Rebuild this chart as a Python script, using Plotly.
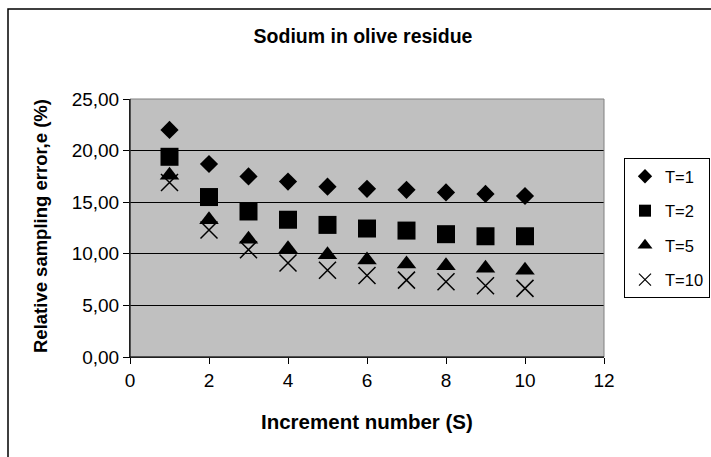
import plotly.graph_objects as go

increments = [1, 2, 3, 4, 5, 6, 7, 8, 9, 10]
t1 = [22.0, 18.7, 17.5, 17.0, 16.5, 16.3, 16.2, 15.95, 15.8, 15.6]
t2 = [19.4, 15.5, 14.1, 13.3, 12.8, 12.45, 12.25, 11.9, 11.7, 11.7]
t5 = [17.6, 13.3, 11.4, 10.5, 9.9, 9.4, 9.0, 8.85, 8.6, 8.4]
t10 = [16.9, 12.3, 10.4, 9.1, 8.4, 7.9, 7.45, 7.3, 6.9, 6.65]
series_names = ["T=1", "T=2", "T=5", "T=10"]

W, H = 711, 457
L, R, T, B = 130, 604, 99, 357  # plot area pixel edges

def px_x(p):
    return (p - L) / (R - L)

def px_y(p):
    return (B - p) / (B - T)

FONT = "Liberation Sans, Arial, sans-serif"

fig = go.Figure()
specs = [
    (t1, "diamond", 14, 11, None),
    (t2, "square", 18, 12, None),
    (t5, "triangle-up", 17, 13, None),
    (t10, "x-thin", 17, 12, 1.5),
]
for name, (vals, sym, size, lsize, lw) in zip(series_names, specs):
    marker = dict(symbol=sym, size=size, color="black")
    lmarker = dict(symbol=sym, size=lsize, color="black")
    if lw:
        marker["line"] = dict(color="black", width=lw)
        lmarker["line"] = dict(color="black", width=1.2)
    fig.add_trace(go.Scatter(
        x=increments, y=vals, mode="markers", name=name, marker=marker,
        showlegend=False,
    ))
    # legend entry with smaller symbol, like the reference legend
    fig.add_trace(go.Scatter(
        x=[None], y=[None], mode="markers", name=name, marker=lmarker,
        legendgroup=name, showlegend=True,
    ))

fig.update_layout(
    width=W, height=H,
    margin=dict(l=L, r=W - R, t=T, b=H - B, pad=0, autoexpand=False),
    paper_bgcolor="white",
    plot_bgcolor="#C0C0C0",
    separators=",.",
    font=dict(family=FONT, color="black", size=17),
    title=dict(
        text="<b>Sodium in olive residue</b>",
        x=363 / W, xref="container", xanchor="center",
        y=1 - 36 / H, yref="container", yanchor="middle",
        font=dict(size=19.5, family=FONT, color="black"),
    ),
    xaxis=dict(
        range=[0, 12], dtick=2, tick0=0,
        showgrid=False, zeroline=False,
        showline=True, linecolor="black", linewidth=1,
        ticks="outside", ticklen=6, tickcolor="black",
        tickfont=dict(size=19, family=FONT, color="black"),
    ),
    yaxis=dict(
        range=[0, 25], dtick=5, tick0=0, tickformat=".2f",
        showgrid=True, gridcolor="black", gridwidth=1, zeroline=False,
        showline=True, linecolor="black", linewidth=1,
        ticks="outside", ticklen=6, tickcolor="black",
        tickfont=dict(size=19, family=FONT, color="black"),
    ),
    showlegend=True,
    legend=dict(
        x=px_x(624), y=px_y(158), xanchor="left", yanchor="top",
        bordercolor="black", borderwidth=1, bgcolor="white",
        font=dict(size=16.5, family=FONT, color="black"),
        traceorder="grouped", tracegroupgap=10,
        itemwidth=30,
    ),
    annotations=[
        dict(text="<b>Relative sampling error,e (%)</b>", textangle=-90,
             xref="paper", yref="paper", x=px_x(40), y=px_y(226),
             xanchor="center", yanchor="middle", showarrow=False,
             font=dict(size=18.5, family=FONT, color="black")),
        dict(text="<b>Increment number (S)</b>",
             xref="paper", yref="paper", x=px_x(366.5), y=px_y(421.5),
             xanchor="center", yanchor="middle", showarrow=False,
             font=dict(size=20.5, family=FONT, color="black")),
    ],
    shapes=[
        dict(type="rect", xref="paper", yref="paper", x0=0, x1=1, y0=0, y1=1,
             line=dict(color="#808080", width=1), layer="above"),
        dict(type="line", xref="paper", yref="paper", x0=0, x1=0, y0=0, y1=1,
             line=dict(color="black", width=1), layer="above"),
        dict(type="line", xref="paper", yref="paper", x0=0, x1=1, y0=0, y1=0,
             line=dict(color="black", width=1), layer="above"),
        dict(type="rect", xref="paper", yref="paper",
             x0=px_x(8), x1=px_x(716), y0=px_y(462), y1=px_y(9),
             line=dict(color="black", width=1.5), layer="above"),
    ],
)

fig.write_html("out.html")
